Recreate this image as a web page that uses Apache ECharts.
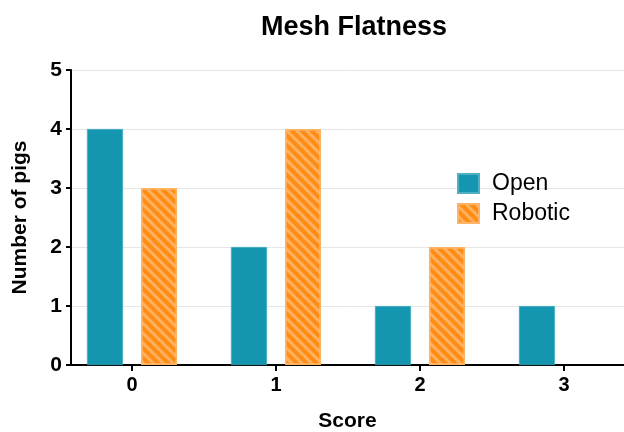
<!DOCTYPE html>
<html><head><meta charset="utf-8">
<script src="https://cdn.jsdelivr.net/npm/echarts@6/dist/echarts.min.js"></script>
<style>html,body{margin:0;padding:0;background:#fff}#c{width:624px;height:432px}</style>
</head><body><div id="c"></div>
<script>
const scores = [0, 1, 2, 3];
const openCounts = [4, 2, 1, 1];
const roboticCounts = [3, 4, 2, 0];
const yTicks = [0, 1, 2, 3, 4, 5];

const font = 'Liberation Sans, Arial, Helvetica, sans-serif';
const chart = echarts.init(document.getElementById('c'), null, {renderer: 'canvas'});
chart.setOption({
  animation: false,
  aria: {enabled: false},
  title: {text: 'Mesh Flatness', left: 349, textAlign: 'center', top: 9,
    textStyle: {fontFamily: font, fontWeight: 'bold', fontSize: 27, color: '#000'}},
  legend: {orient: 'vertical', left: 457, top: 172, padding: 0, itemWidth: 21, itemHeight: 19, itemGap: 7,
    icon: 'rect',
    textStyle: {fontFamily: font, fontSize: 23, color: '#000', padding: [0, 0, 0, 8]},
    data: ['Open', 'Robotic']},
  grid: {left: 71, right: 0, top: 70, bottom: 67, containLabel: false, outerBoundsMode: 'none'},
  xAxis: {type: 'value', min: -0.4236, max: 3.417,
    name: 'Score', nameLocation: 'middle', nameGap: 46,
    nameTextStyle: {fontFamily: font, fontWeight: 'bold', fontSize: 21, color: '#000'},
    axisLine: {lineStyle: {color: '#000', width: 2}},
    axisTick: {show: true, length: 6, lineStyle: {color: '#000', width: 2}, customValues: scores},
    axisLabel: {customValues: scores, margin: 10, fontFamily: font, fontWeight: 'bold', fontSize: 20, color: '#000'},
    splitLine: {show: false}},
  yAxis: {type: 'value', min: 0, max: 5, interval: 1,
    name: 'Number of pigs', nameLocation: 'middle', nameGap: 40,
    nameTextStyle: {fontFamily: font, fontWeight: 'bold', fontSize: 21, color: '#000'},
    axisLine: {show: true, onZero: false, lineStyle: {color: '#000', width: 2}},
    axisTick: {show: true, length: 5, lineStyle: {color: '#000', width: 2}},
    axisLabel: {margin: 9, fontFamily: font, fontWeight: 'bold', fontSize: 21, color: '#000'},
    splitLine: {show: true, lineStyle: {color: '#e6e6e6', width: 1}}},
  series: [
    {name: 'Open', type: 'bar', barWidth: 36, barGap: '50%',
      itemStyle: {color: '#1496B1', borderColor: '#4FB0C4', borderWidth: 0.5},
      data: scores.map((s, i) => [s, openCounts[i]])},
    {name: 'Robotic', type: 'bar', barWidth: 36, barGap: '50%',
      itemStyle: {color: '#FF8C14', borderColor: '#FFB366', borderWidth: 1.5,
        decal: {symbol: 'rect', dashArrayX: [1, 0], dashArrayY: [3, 4], rotation: Math.PI / 4,
          color: 'rgba(255,190,120,0.75)'}},
      data: scores.map((s, i) => roboticCounts[i] === 0
        ? {value: [s, roboticCounts[i]], itemStyle: {borderWidth: 0}}
        : [s, roboticCounts[i]])}
  ]
});
</script></body></html>
